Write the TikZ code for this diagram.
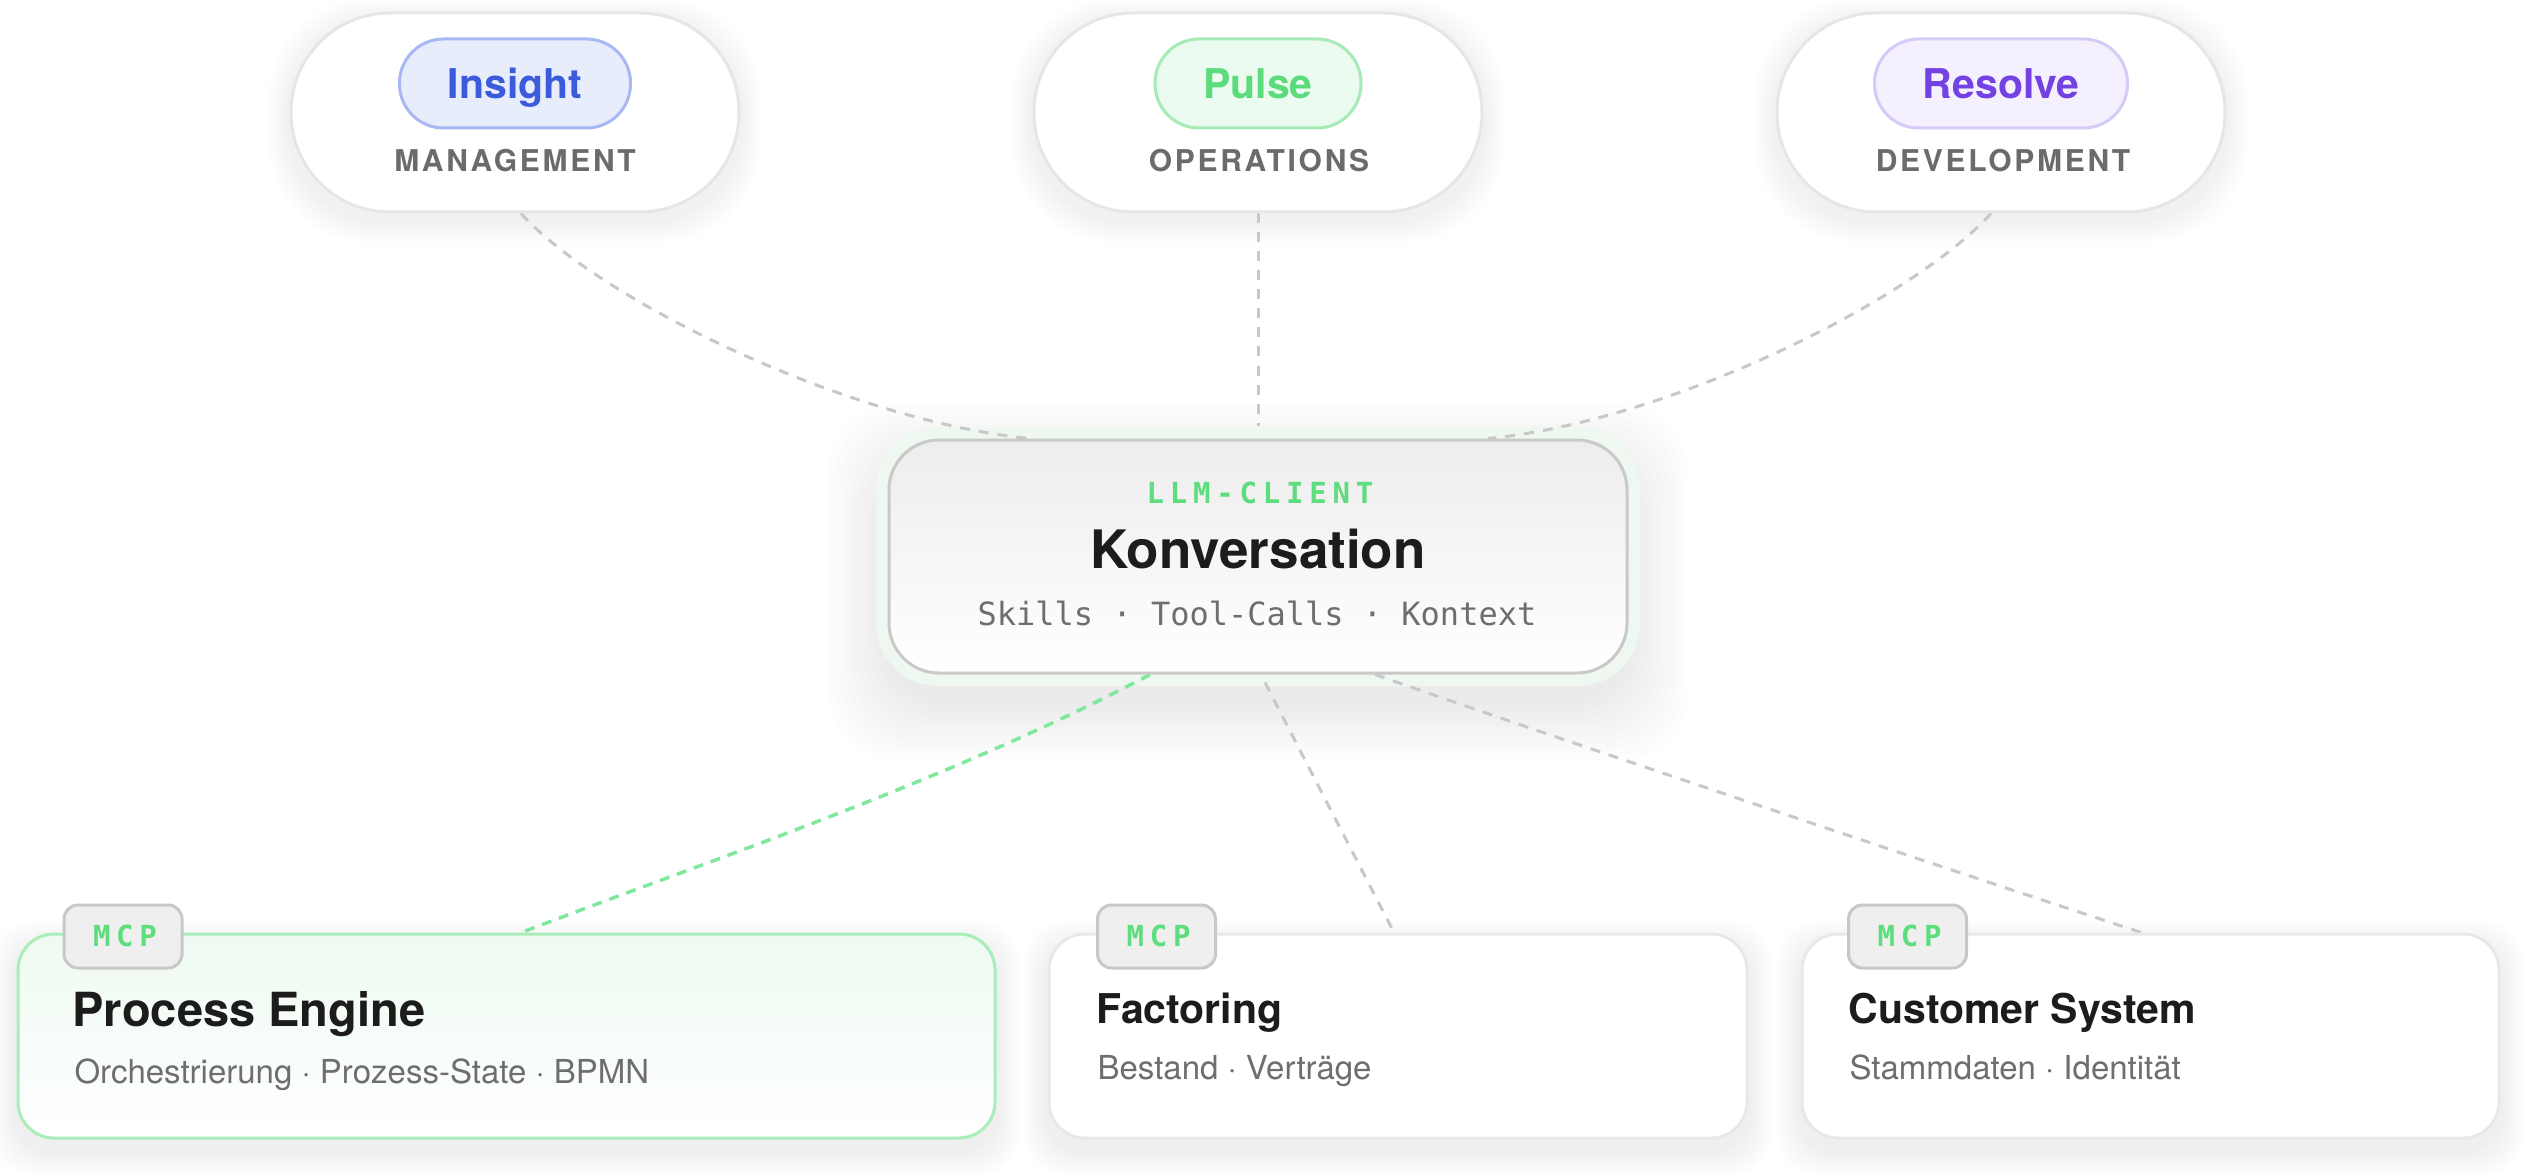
\documentclass[tikz,border=0pt]{standalone}
\usepackage{fontspec}
\setmainfont{TeX Gyre Heros}
\newfontfamily\monofont{DejaVu Sans Mono}
\newfontfamily\spacedfont[LetterSpace=9]{TeX Gyre Heros}
\newfontfamily\spacedmono[LetterSpace=20]{DejaVu Sans Mono}
\usepackage{tikz}
\usetikzlibrary{positioning}

\newcommand{\fsz}[1]{\fontsize{#1}{#1}\selectfont}

\definecolor{pillLine}{HTML}{E6E6E6}
\definecolor{insightFill}{HTML}{E8EDFC}
\definecolor{insightLine}{HTML}{A8B8F2}
\definecolor{insightInk}{HTML}{3B5BDB}
\definecolor{pulseFill}{HTML}{EBFBEF}
\definecolor{pulseLine}{HTML}{A6EBB5}
\definecolor{pulseInk}{HTML}{5CDB7C}
\definecolor{resolveFill}{HTML}{F4F0FD}
\definecolor{resolveLine}{HTML}{D6CAF9}
\definecolor{resolveInk}{HTML}{7441E3}
\definecolor{roleGray}{HTML}{6B6B6B}
\definecolor{llmLine}{HTML}{C9C9C9}
\definecolor{llmTop}{HTML}{EDEDED}
\definecolor{haloGreen}{HTML}{EEF7F0}
\definecolor{mcpGreen}{HTML}{5EDD7E}
\definecolor{inkBlack}{HTML}{1C1C1C}
\definecolor{detailGray}{HTML}{6E6E6E}
\definecolor{tagFill}{HTML}{EFEFEF}
\definecolor{tagLine}{HTML}{C8C8C8}
\definecolor{boxLine}{HTML}{E8E8E8}
\definecolor{engineLine}{HTML}{A9EDBA}
\definecolor{engineTop}{HTML}{EEFAF1}
\definecolor{linkGray}{HTML}{C8C8C8}
\definecolor{linkGreen}{HTML}{80E89C}

\pgfdeclarelayer{bg}
\pgfsetlayers{bg,main}

\begin{document}
\begin{tikzpicture}[x=1pt,y=-1pt,
    pill/.style={draw=pillLine, line width=3pt, fill=white, rounded corners=99pt,
      minimum width=448pt, minimum height=199pt, inner sep=0pt},
    badge/.style={line width=3pt, rounded corners=44pt, minimum height=89pt, inner sep=0pt},
    badgetext/.style={font=\bfseries\fsz{41}, anchor=base},
    role/.style={font=\spacedfont\bfseries\fsz{30}, text=roleGray, anchor=base},
    tagbox/.style={draw=tagLine, fill=tagFill, line width=3pt, rounded corners=14pt,
      minimum width=118pt, minimum height=63pt, inner sep=0pt},
    tagtext/.style={font=\spacedmono\bfseries\fsz{29}, text=mcpGreen, anchor=base},
    server/.style={draw=boxLine, line width=3pt, fill=white, rounded corners=36pt,
      minimum height=204pt, inner sep=0pt},
    srvtitle/.style={font=\bfseries\fsz{41}, text=inkBlack, anchor=base west},
    srvdetail/.style={font=\fsz{33}, text=detailGray, anchor=base west},
    srvlink/.style={draw=linkGray, line width=3pt, dash pattern=on 10pt off 9pt},
    srvactive/.style={draw=linkGreen, line width=3.5pt, dash pattern=on 10pt off 8pt},
    softshade/.style={fill=black, opacity=0.007}
  ]
  \useasboundingbox (0,0) rectangle (2536,1174);

  % user groups
  \node[pill] (mgmt) at (515,112.5) {};
  \node[pill] (ops) at (1258,112.5) {};
  \node[pill] (dev) at (2001,112.5) {};

  \node[badge, draw=insightLine, fill=insightFill, minimum width=231pt] (insight) at (515,83.5) {};
  \node[badge, draw=pulseLine, fill=pulseFill, minimum width=206pt] (pulse) at (1258,83.5) {};
  \node[badge, draw=resolveLine, fill=resolveFill, minimum width=253pt] (resolve) at (2001,83.5) {};

  \node[badgetext, text=insightInk] at (515,99) {Insight};
  \node[badgetext, text=pulseInk] at (1258,99) {Pulse};
  \node[badgetext, text=resolveInk] at (2001,99) {Resolve};

  \node[role] at (515,172) {MANAGEMENT};
  \node[role] at (1259,172) {OPERATIONS};
  \node[role] at (2003,172) {DEVELOPMENT};

  % llm client
  \node[draw=llmLine, line width=3pt, top color=llmTop, bottom color=white, rounded corners=50pt,
    minimum width=738pt, minimum height=233pt, inner sep=0pt] (llm) at (1258,556.5) {};
  \node[font=\spacedmono\bfseries\fsz{29}, text=mcpGreen, anchor=base] at (1260,503) {LLM-CLIENT};
  \node[font=\bfseries\fsz{53}, text=inkBlack, anchor=base] at (1258,568) {Konversation};
  \node[font=\monofont\fsz{32}, text=detailGray, anchor=base] at (1257,625) {Skills · Tool-Calls · Kontext};

  % mcp servers
  \node[server, draw=engineLine, top color=engineTop, bottom color=white, minimum width=977pt] (engine) at (506.5,1036) {};
  \node[server, minimum width=698pt] (factoring) at (1398,1036) {};
  \node[server, minimum width=697pt] (customer) at (2150.5,1036) {};

  \node[tagbox] (engineTag) at (123,936.5) {};
  \node[tagbox] (factoringTag) at (1156.5,936.5) {};
  \node[tagbox] (customerTag) at (1907.5,936.5) {};
  \node[tagtext] at (125,946) {MCP};
  \node[tagtext] at (1158.5,946) {MCP};
  \node[tagtext] at (1909.5,946) {MCP};

  \node[srvtitle, font=\bfseries\fsz{47}] at (69,1026) {Process Engine};
  \node[srvdetail] at (71,1083) {Orchestrierung · Prozess-State · BPMN};
  \node[srvtitle] at (1093,1023) {Factoring};
  \node[srvdetail] at (1094,1079) {Bestand · Verträge};
  \node[srvtitle] at (1845,1023) {Customer System};
  \node[srvdetail] at (1846,1079) {Stammdaten · Identität};

  % shadows, halo and connectors
  \begin{pgfonlayer}{bg}
    \fill[white] (0,0) rectangle (2536,1174);
    \foreach \n in {mgmt,ops,dev}
      \foreach \g in {3,6,...,21}
        \fill[softshade, rounded corners=100pt] ([shift={({-\g*1pt},{-\g*1pt-8pt})}]\n.south west) rectangle ([shift={({\g*1pt},{\g*1pt-8pt})}]\n.north east);
    \foreach \n in {engine,factoring,customer}
      \foreach \g in {3,6,...,24}
        \fill[softshade, rounded corners=42pt] ([shift={({-\g*1pt},{-\g*1pt-12pt})}]\n.south west) rectangle ([shift={({\g*1pt},{\g*1pt-12pt})}]\n.north east);
    \foreach \g in {6,12,...,60}
      \fill[softshade, rounded corners=70pt] ([shift={({-\g*1pt},{-\g*1pt-26pt})}]llm.south west) rectangle ([shift={({\g*1pt},{\g*1pt-26pt})}]llm.north east);
    \node[fill=haloGreen, rounded corners=62pt, minimum width=764pt, minimum height=259pt] (halo) at (1258,556.5) {};
    \draw[srvlink] ([xshift=6pt]mgmt.south) .. controls +(79,87) and +(-180,-17) .. ([xshift=-228pt]llm.north);
    \draw[srvlink] (ops.south) -- ([yshift=13pt]llm.north);
    \draw[srvlink] ([xshift=-10pt]dev.south) .. controls +(-79,87) and +(180,-17) .. ([xshift=230pt]llm.north);
    \draw[srvactive] ([xshift=-108pt]llm.south) .. controls +(-200,106) and +(187,-72) .. ([xshift=15pt]engine.north);
    \draw[srvlink] ([xshift=7pt,yshift=-8pt]llm.south) -- ([xshift=-4pt]factoring.north);
    \draw[srvlink] ([xshift=117pt]llm.south) .. controls +(170,60) and +(-130,-42) .. ([xshift=-9pt]customer.north);
  \end{pgfonlayer}
\end{tikzpicture}
\end{document}
